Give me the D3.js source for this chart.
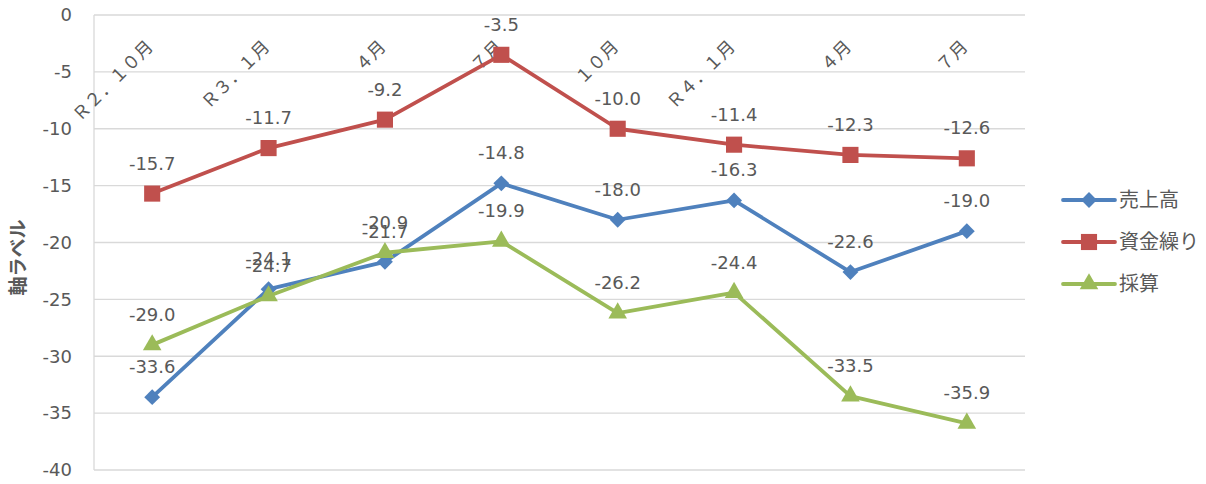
<!DOCTYPE html>
<html><head><meta charset="utf-8">
<script src="https://cdn.jsdelivr.net/npm/d3@7"></script>
<style>body{margin:0;background:#fff}svg{display:block}</style>
</head><body>
<script>
const categories = ["Ｒ２．１０月","Ｒ３．１月","４月","７月","１０月","Ｒ４．１月","４月","７月"];
const sales = [-33.6,-24.1,-21.7,-14.8,-18.0,-16.3,-22.6,-19.0];
const cash = [-15.7,-11.7,-9.2,-3.5,-10.0,-11.4,-12.3,-12.6];
const profit = [-29.0,-24.7,-20.9,-19.9,-26.2,-24.4,-33.5,-35.9];
const seriesNames = ["売上高","資金繰り","採算"];
const yTicks = [0,-5,-10,-15,-20,-25,-30,-35,-40];
const yTitle = "軸ラベル";

(function(){
const series = [
  {name: seriesNames[0], values: sales, color: "#4F81BD", marker: d3.symbolDiamond2, msize: 160},
  {name: seriesNames[1], values: cash, color: "#C0504D", marker: d3.symbolSquare, msize: 260},
  {name: seriesNames[2], values: profit, color: "#9BBB59", marker: d3.symbolTriangle, msize: 150}
];

const W = 1206, H = 484;
const svg = d3.select("body").append("svg").attr("width", W).attr("height", H);
const pL = 94, pR = 1025, pT = 15, pB = 470;
const x = d3.scaleBand().domain(d3.range(categories.length)).range([pL, pR]);
const y = d3.scaleLinear().domain([-40, 0]).range([pB, pT]);
const cx = i => x(i) + x.bandwidth() / 2;
const numFont = "'DejaVu Sans', sans-serif";
const jpFont = "'Noto Sans CJK JP', sans-serif";
const txt = "#595959";

// gridlines
svg.append("g").selectAll("line").data(yTicks).join("line")
  .attr("x1", pL).attr("x2", pR).attr("y1", d => y(d)).attr("y2", d => y(d))
  .attr("stroke", "#d9d9d9").attr("stroke-width", 1.3);
svg.append("line").attr("x1", pL).attr("x2", pL).attr("y1", pT).attr("y2", pB)
  .attr("stroke", "#d9d9d9").attr("stroke-width", 1.3);

// y axis labels
const yAxis = d3.axisLeft(y).tickValues(yTicks).tickSize(0).tickPadding(22).tickFormat(d3.format("d"));
const ya = svg.append("g").attr("transform", `translate(${pL},0)`).call(yAxis);
ya.select(".domain").remove();
ya.selectAll("text").attr("font-family", numFont).attr("font-size", 18).attr("fill", txt)
  .text(d => String(d));

// axis title
svg.append("text").attr("transform", `translate(25,${(pT+pB)/2 + 15}) rotate(-90)`)
  .attr("text-anchor", "middle").attr("font-family", jpFont).attr("font-size", 19)
  .attr("font-weight", "bold").attr("fill", txt).text(yTitle);

// category labels
svg.append("g").selectAll("text").data(categories).join("text")
  .attr("transform", (d, i) => `translate(${cx(i) + 2},48) rotate(-45)`)
  .attr("text-anchor", "end").attr("font-family", jpFont).attr("font-size", 17.5)
  .attr("fill", txt).text(d => d);

// lines
const line = d3.line().x((d, i) => cx(i)).y(d => y(d));
series.forEach(s => {
  svg.append("path").datum(s.values).attr("d", line).attr("fill", "none")
    .attr("stroke", s.color).attr("stroke-width", 3.8).attr("stroke-linejoin", "round");
});
series.forEach(s => {
  svg.append("g").selectAll("path").data(s.values).join("path")
    .attr("transform", (d, i) => `translate(${cx(i)},${y(d)})`)
    .attr("d", d3.symbol().type(s.marker).size(s.msize)).attr("fill", s.color);
});
// data labels
series.forEach(s => {
  svg.append("g").selectAll("text").data(s.values).join("text")
    .attr("x", (d, i) => cx(i)).attr("y", d => y(d) - 24)
    .attr("text-anchor", "middle").attr("font-family", numFont).attr("font-size", 18)
    .attr("fill", txt).text(d => d.toFixed(1));
});

// legend
const lg = svg.append("g");
series.forEach((s, k) => {
  const ly = 200 + k * 42;
  lg.append("line").attr("x1", 1063).attr("x2", 1115).attr("y1", ly).attr("y2", ly)
    .attr("stroke", s.color).attr("stroke-width", 3.8).attr("stroke-linecap", "round");
  lg.append("path").attr("transform", `translate(1089,${ly})`)
    .attr("d", d3.symbol().type(s.marker).size(s.msize)).attr("fill", s.color);
  lg.append("text").attr("x", 1119).attr("y", ly + 7).attr("font-family", jpFont)
    .attr("font-size", 20).attr("fill", txt).text(s.name);
});
})();
</script>
</body></html>
